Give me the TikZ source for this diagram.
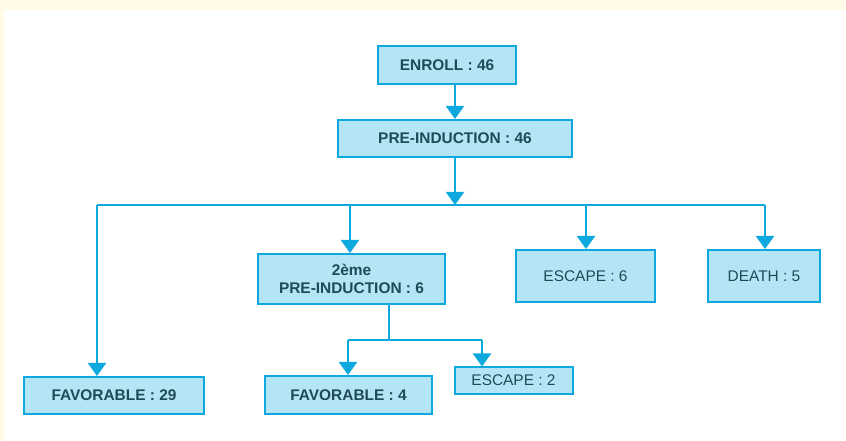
\documentclass[tikz,border=0pt]{standalone}
\usepackage{fontspec}
\setmainfont{Liberation Sans}
\usetikzlibrary{arrows.meta}
\definecolor{boxfill}{HTML}{B3E5F5}
\definecolor{boxline}{HTML}{0DA8DE}
\definecolor{txt}{HTML}{1E4A5A}
\definecolor{cream}{HTML}{FFFBE6}
\tikzset{
  box/.style={draw=boxline, fill=boxfill, line width=2bp, inner sep=0pt,
    text=txt, font=\fontsize{15.5}{18}\selectfont, align=center},
  bbox/.style={box, font=\fontsize{15.5}{18}\selectfont\bfseries},
  conn/.style={draw=boxline, line width=2.2bp},
  arr/.style={conn, -{Triangle[width=18bp,length=13bp]}},
}
\begin{document}
\begin{tikzpicture}[x=1bp,y=-1bp]
\useasboundingbox (0,0) rectangle (846,441);
\fill[white] (0,0) rectangle (846,441);
\fill[cream] (0,0) rectangle (846,10);
\fill[cream] (0,0) rectangle (4,441);
% nodes
\node[bbox, minimum width=138bp, minimum height=38bp] (enroll) at (447,65) {ENROLL : 46};
\node[bbox, minimum width=234bp, minimum height=37bp] (pre) at (455,138.5) {PRE-INDUCTION : 46};
\node[bbox, minimum width=180bp, minimum height=37bp] (fav29) at (114,395.5) {FAVORABLE : 29};
\node[bbox, minimum width=187bp, minimum height=50bp] (pre2) at (351.5,279) {2ème\\PRE-INDUCTION : 6};
\node[box, minimum width=139bp, minimum height=52bp] (esc6) at (585.5,276) {ESCAPE : 6};
\node[box, minimum width=112bp, minimum height=52bp] (death) at (764,276) {DEATH : 5};
\node[bbox, minimum width=167bp, minimum height=38bp] (fav4) at (348.5,395) {FAVORABLE : 4};
\node[box, minimum width=118bp, minimum height=26bp] (esc2) at (513.5,380.5) {ESCAPE : 2};
% coordinates
\coordinate (bus) at (455,205);
\coordinate (b1) at (97,205);
\coordinate (b2) at (350,205);
\coordinate (b3) at (586,205);
\coordinate (b4) at (765,205);
\coordinate (s2) at (389,340);
\coordinate (s1) at (348,340);
\coordinate (s3) at (482,340);
% connectors
\draw[arr] (enroll.south -| pre.north) -- (pre.north);
\draw[conn] (b1) -- (b4);
\draw[arr] (pre.south) -- (bus);
\draw[arr] (b1) -- (b1 |- fav29.north);
\draw[arr] (b2) -- (b2 |- pre2.north);
\draw[arr] (b3) -- (b3 |- esc6.north);
\draw[arr] (b4) -- (b4 |- death.north);
\draw[conn] (s2 |- pre2.south) -- (s2);
\draw[conn] (s1) -- (s3);
\draw[arr] (s1) -- (s1 |- fav4.north);
\draw[arr] (s3) -- (s3 |- esc2.north);
\end{tikzpicture}
\end{document}
